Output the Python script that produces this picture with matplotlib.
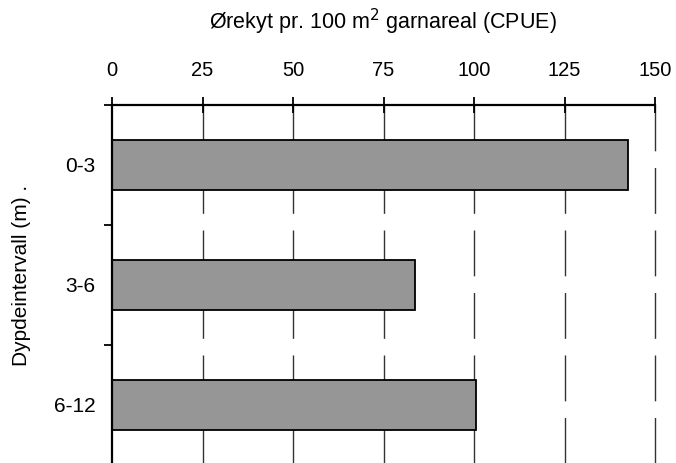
import matplotlib
matplotlib.use("Agg")
import matplotlib.pyplot as plt

plt.rcParams['font.family'] = ['Liberation Sans', 'DejaVu Sans']

# data
categories = ["0-3", "3-6", "6-12"]
cpue = [142.5, 83.8, 100.5]
xticks = [0, 25, 50, 75, 100, 125, 150]

fig = plt.figure(figsize=(6.76, 4.63), dpi=100)
ax = fig.add_axes([112 / 676, -2 / 463, 543 / 676, 360 / 463])

pos = list(range(len(categories)))

# dashed grid lines, drawn from the top down
for x in xticks[1:]:
    ax.axvline(x, ymin=1, ymax=0, color="#333333", lw=1.0,
               linestyle=(0, (33, 12)), zorder=1, clip_on=False)

ax.barh(pos, cpue, height=0.41, color="#969696", edgecolor="black",
        linewidth=1.3, zorder=2)

ax.set_xlim(0, 150)
ax.set_ylim(2.5, -0.5)

ax.xaxis.tick_top()
ax.set_xticks(xticks)
ax.set_xticklabels([str(v) for v in xticks])
ax.tick_params(axis="x", direction="inout", length=12, width=1.3,
               labelsize=14.5, pad=12)

# tick marks between categories, labels at the centres
ax.set_yticks([-0.5, 0.5, 1.5, 2.5])
ax.set_yticklabels([])
ax.set_yticks(pos, minor=True)
ax.set_yticklabels(categories, minor=True)
ax.tick_params(axis="y", which="major", direction="out", length=6, width=1.3)
ax.tick_params(axis="y", which="minor", length=0, labelsize=15, pad=12)

for s in ["right", "bottom"]:
    ax.spines[s].set_visible(False)
ax.spines["top"].set_linewidth(1.6)
ax.spines["left"].set_linewidth(1.6)

fig.text(383 / 676, 1 - 22 / 463, "Ørekyt pr. 100 m$^2$ garnareal (CPUE)",
         ha="center", va="center", fontsize=15.5)
fig.text(22 / 676, 1 - 275 / 463, "Dypdeintervall (m) .", rotation=90,
         ha="center", va="center", fontsize=15)

fig.savefig("out.png", dpi=100)
